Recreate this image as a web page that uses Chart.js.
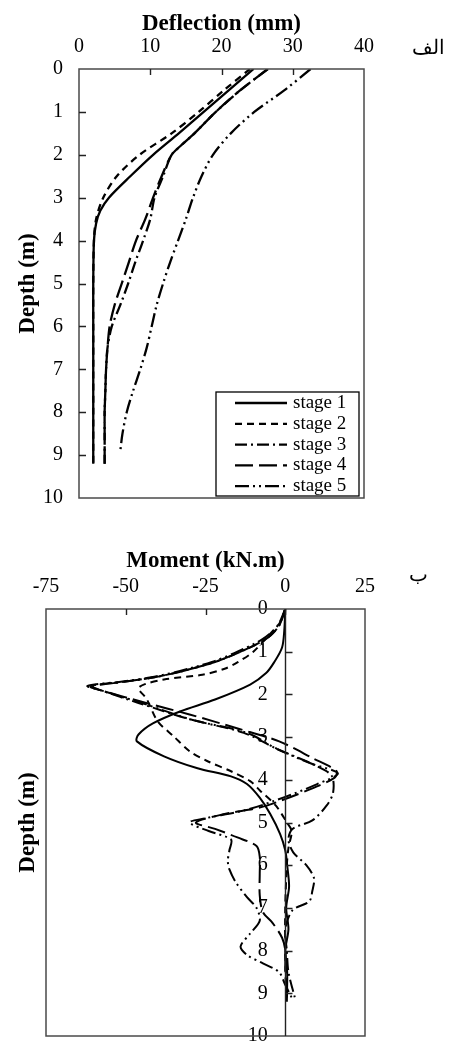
<!DOCTYPE html>
<html>
<head>
<meta charset="utf-8">
<script src="https://cdn.jsdelivr.net/npm/chart.js@4.4.1/dist/chart.umd.min.js"></script>
<style>
  html, body { margin:0; padding:0; background:#fff; overflow:hidden; }
  .wrap { position:relative; width:452px; height:1043px; overflow:hidden; }
  canvas { position:absolute; left:0; }
  #c1 { top:0; }
  #c2 { top:520px; }
  .tag { position:absolute; font-family:"Liberation Serif","DejaVu Serif",serif; font-size:20px; line-height:24px; color:#000; direction:rtl; }
</style>
</head>
<body>
<div class="wrap">
  <canvas id="c1" width="452" height="528"></canvas>
  <canvas id="c2" width="452" height="546"></canvas>
  <div class="tag" style="right:7px; top:35px">الف</div>
  <div class="tag" style="right:24px; top:562px">ب</div>
</div>
<script>
// ---- data: deflection vs depth (chart الف)
const stageNames = ["stage 1", "stage 2", "stage 3", "stage 4", "stage 5"];

const defDepth1 = [0, 0.5, 1, 1.5, 2, 2.5, 3, 3.3, 3.6, 4, 5, 6, 7, 8, 9.2];
const defStage1 = [24.5, 21, 17.5, 14, 10.4, 7.2, 4.2, 3.0, 2.4, 2.1, 2.0, 2.0, 2.0, 2.0, 2.0];
const defDepth2 = [0, 0.5, 1, 1.5, 2, 2.5, 3, 3.5, 4, 5, 6, 7, 8, 9.2];
const defStage2 = [24, 20.3, 16.8, 13, 8.5, 5.3, 3.4, 2.4, 2.1, 2.0, 2.0, 2.0, 2.0, 2.0];
const defDepth34 = [0, 0.5, 1, 1.5, 1.8, 2, 2.5, 3, 3.5, 4, 4.5, 5, 5.5, 6, 6.5, 7, 7.5, 8, 8.5, 9.2];
const defStage3 = [26.5, 22.6, 19.2, 16.2, 14.2, 13.0, 11.8, 10.6, 10.0, 9.0, 7.9, 6.9, 5.8, 4.6, 4.0, 3.8, 3.7, 3.6, 3.6, 3.6];
const defStage4 = [26.5, 22.6, 19.2, 16.2, 14.2, 13.0, 11.6, 10.4, 9.3, 8.0, 7.0, 6.0, 5.0, 4.3, 4.0, 3.8, 3.7, 3.6, 3.6, 3.6];
const defDepth5 = [0, 0.5, 1, 1.5, 2, 2.5, 3, 3.5, 4, 4.5, 5, 5.5, 6, 6.5, 7, 7.5, 8, 8.5, 8.9];
const defStage5 = [32.5, 28.8, 24.6, 21.3, 18.8, 17.2, 16.0, 15.0, 13.9, 12.8, 11.8, 10.9, 10.2, 9.5, 8.6, 7.6, 6.7, 6.1, 5.8];

// ---- data: moment vs depth (chart ب)
const momDepth1 = [0, 0.5, 0.9, 1.25, 1.5, 1.77, 2.12, 2.4, 2.68, 2.94, 3.1, 3.45, 3.73, 3.92, 4.1, 4.42, 4.8, 5.27, 5.65, 6.0, 6.5, 7.0, 7.5, 8.0, 8.5, 9.2];
const momStage1 = [0, -0.3, -1, -3.5, -6, -11, -22, -33, -41.5, -46, -46.5, -38, -27.5, -17, -12, -8, -4.7, -1.6, 0, 0.6, 1.2, 0.3, 1, 0, 0.6, 0.5];
const momDepth2 = [0, 0.3, 0.6, 1.0, 1.25, 1.4, 1.54, 1.65, 1.76, 1.86, 2.1, 2.63, 2.98, 3.33, 3.56, 3.8, 4.03, 4.26, 4.6, 5.0, 5.2, 5.6, 6.0, 7.0, 8.0, 9.2];
const momStage2 = [0, -1.5, -5, -10, -15, -19, -26, -38, -44, -46, -43.5, -40, -35, -30, -24.5, -17, -11, -7.8, -3, 0.5, 2, 1, 0.5, 0, 0, 0.5];
const momDepth3 = [0, 0.4, 0.7, 1.0, 1.24, 1.45, 1.6, 1.7, 1.8, 1.9, 2.2, 2.58, 2.9, 3.28, 3.63, 3.9, 4.3, 4.6, 4.95, 5.15, 5.4, 5.7, 6.0, 6.3, 6.6, 6.85, 7.05, 7.5, 8.0, 8.5, 9.1];
const momStage3 = [0, -2, -6, -14, -22, -32, -41, -50, -61, -58, -46, -30, -13, -2.5, 8.5, 14.5, 15, 13, 8.5, 2.3, 1, 2.5, 6.6, 9, 8.5, 7.5, 2.3, 0, 0.5, 1, 3];
const momDepth4 = [0, 0.4, 0.7, 1.0, 1.24, 1.45, 1.6, 1.7, 1.82, 1.9, 2.2, 2.47, 2.81, 3.1, 3.49, 3.79, 3.95, 4.2, 4.45, 4.65, 4.8, 5.0, 5.15, 5.35, 5.55, 5.8, 6.2, 6.7, 7.1, 7.35, 7.7, 8.0, 8.5, 9.1];
const momStage4 = [0, -2, -6, -14, -22, -32, -41, -50, -61, -58, -43.6, -30, -14.4, -1.9, 8.5, 16, 15.5, 8.5, 0, -8, -19, -28, -22, -15, -9, -8, -8, -8, -7, -4, -1, 0, 0, 0.5];
const momDepth5 = [0, 0.4, 0.7, 1.0, 1.24, 1.45, 1.6, 1.7, 1.8, 1.9, 2.2, 2.6, 2.9, 3.28, 3.63, 3.85, 4.1, 4.4, 4.7, 4.9, 5.0, 5.2, 5.4, 5.65, 5.9, 6.1, 6.4, 6.75, 7.0, 7.3, 7.6, 7.9, 8.1, 8.3, 8.5, 8.8, 9.1];
const momStage5 = [0, -2.5, -7, -15, -23, -33, -42, -51, -62, -58, -45, -29, -12, -2.5, 8.5, 16.5, 10, 0, -12, -25, -30, -24, -17, -17.5, -18, -17.5, -15.5, -12, -9, -8, -11, -14, -12, -7, -2, 0, 2];

// line style per stage (solid, dashed, dash-dot, long dash, dash-dot-dot)
const stageDash = [[], [7, 5], [12, 4, 2, 4], [18, 6], [14, 4, 2, 4, 2, 4]];

const FONT = "'Liberation Serif', 'Times New Roman', serif";
Chart.defaults.font.family = FONT;
Chart.defaults.color = "#000";

function pts(xs, ds){ return xs.map((v,i)=>({x:v, y:ds[i]})); }

function makeSets(pairs, width){
  return pairs.map(([vals, depths], i)=>({
    label: stageNames[i], data: pts(vals, depths), showLine:true, fill:false,
    borderColor:"#000", borderWidth:width, borderDash:stageDash[i], borderCapStyle:"butt",
    pointRadius:0, tension:0.3
  }));
}

// frame round the plot, zero axis + inward tick marks
const framePlugin = {
  id:"frame",
  afterDatasetsDraw(chart, args, opts){
    const {ctx, chartArea:a, scales} = chart;
    const xs = scales.x, ys = scales.y;
    ctx.save();
    ctx.strokeStyle = "#4a4a4a"; ctx.lineWidth = 1.5;
    ctx.strokeRect(a.left, a.top, a.right-a.left, a.bottom-a.top);
    ctx.strokeStyle = "#222"; ctx.lineWidth = 1.4;
    let yBase = a.left;
    if(opts.yAt != null){
      yBase = Math.round(xs.getPixelForValue(opts.yAt))+0.5;
      ctx.beginPath(); ctx.moveTo(yBase, a.top); ctx.lineTo(yBase, a.bottom); ctx.stroke();
    }
    ctx.beginPath();
    xs.ticks.forEach(t=>{
      if(t.value<=xs.min || t.value>=xs.max) return;
      const px = Math.round(xs.getPixelForValue(t.value))+0.5;
      ctx.moveTo(px, a.top); ctx.lineTo(px, a.top+6);
    });
    ys.ticks.forEach(t=>{
      if(t.value<=ys.min || t.value>=ys.max) return;
      const py = Math.round(ys.getPixelForValue(t.value))+0.5;
      ctx.moveTo(yBase, py); ctx.lineTo(yBase+7, py);
    });
    ctx.stroke();
    ctx.restore();
  }
};

// boxed legend inside the plot, lower right
const boxLegend = {
  id:"boxLegend",
  afterDraw(chart){
    const {ctx, chartArea:a} = chart;
    const w = 143, h = 104, x0 = a.right-5-w, y0 = a.bottom-2-h;
    ctx.save();
    ctx.fillStyle = "#fff"; ctx.fillRect(x0, y0, w, h);
    ctx.strokeStyle = "#000"; ctx.lineWidth = 1.3; ctx.strokeRect(x0, y0, w, h);
    ctx.font = "19px " + FONT; ctx.textBaseline = "middle"; ctx.fillStyle = "#000";
    chart.data.datasets.forEach((ds, i)=>{
      const y = y0 + 11 + i*20.8;
      ctx.setLineDash(ds.borderDash); ctx.lineWidth = ds.borderWidth;
      ctx.beginPath(); ctx.moveTo(x0+19, y); ctx.lineTo(x0+71, y); ctx.stroke();
      ctx.setLineDash([]);
      ctx.fillText(ds.label, x0+77, y);
    });
    ctx.restore();
  }
};

const tickFont = {size:20};
const titleFont = {size:23, weight:"bold"};
const noGrid = {display:false, drawTicks:false};

new Chart(document.getElementById("c1"), {
  type:"scatter",
  data:{ datasets: makeSets([
    [defStage1, defDepth1], [defStage2, defDepth2], [defStage3, defDepth34],
    [defStage4, defDepth34], [defStage5, defDepth5]
  ], 2.3) },
  options:{
    responsive:false, animation:false, devicePixelRatio:1,
    layout:{padding:{left:0, top:0, right:88, bottom:30}},
    plugins:{ legend:{display:false}, tooltip:{enabled:false}, frame:{} },
    scales:{
      x:{ type:"linear", position:"top", min:0, max:40,
          ticks:{stepSize:10, padding:10, font:tickFont},
          grid:noGrid, border:{display:false},
          title:{display:true, text:"Deflection (mm)", font:titleFont, padding:{top:10, bottom:0}},
          afterFit(s){ s.height = 69; } },
      y:{ type:"linear", position:"left", reverse:true, min:0, max:10,
          ticks:{stepSize:1, padding:16, font:tickFont},
          grid:noGrid, border:{display:false},
          title:{display:true, text:"Depth (m)", font:titleFont, padding:{top:14, bottom:0}},
          afterFit(s){ s.width = 79; } }
    }
  },
  plugins:[framePlugin, boxLegend]
});

new Chart(document.getElementById("c2"), {
  type:"scatter",
  data:{ datasets: makeSets([
    [momStage1, momDepth1], [momStage2, momDepth2], [momStage3, momDepth3],
    [momStage4, momDepth4], [momStage5, momDepth5]
  ], 2) },
  options:{
    responsive:false, animation:false, devicePixelRatio:1,
    layout:{padding:{left:0, top:0, right:87, bottom:30}},
    plugins:{ legend:{display:false}, tooltip:{enabled:false}, frame:{yAt:0} },
    scales:{
      x:{ type:"linear", position:"top", min:-75, max:25,
          ticks:{stepSize:25, padding:10, font:tickFont},
          grid:noGrid, border:{display:false},
          title:{display:true, text:"Moment (kN.m)", font:titleFont, padding:{top:27, bottom:0}},
          afterFit(s){ s.height = 89; } },
      // depth labels sit just left of the zero line
      y:{ type:"linear", position:{x:-5.5}, reverse:true, min:0, max:10,
          ticks:{stepSize:1, padding:0, font:tickFont},
          grid:noGrid, border:{display:false},
          afterFit(s){ s.width = 0; } },
      yTitle:{ type:"linear", position:"left", reverse:true, min:0, max:10,
          ticks:{display:false, padding:0}, grid:noGrid, border:{display:false},
          title:{display:true, text:"Depth (m)", font:titleFont, padding:{top:14, bottom:0}},
          afterFit(s){ s.width = 46; } }
    }
  },
  plugins:[framePlugin]
});
</script>
</body>
</html>
